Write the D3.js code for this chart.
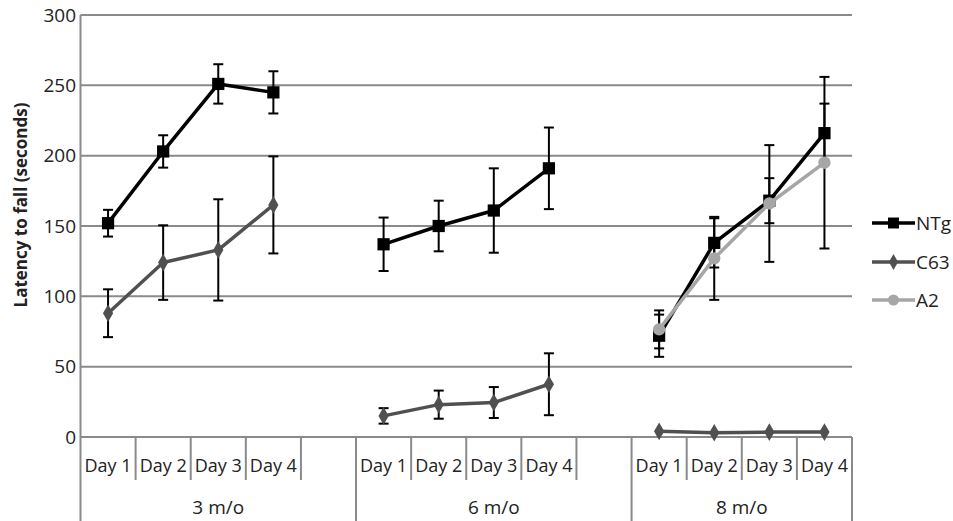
<!DOCTYPE html>
<html lang="en">
<head>
<meta charset="UTF-8">
<title>Latency to fall</title>
<script src="https://d3js.org/d3.v7.min.js"></script>
<style>
  body { margin: 0; background: #fff; }
  text { font-family: "Open Sans", sans-serif; fill: #222; }
  .tick-label { font-size: 19px; }
  .day-label { font-size: 18px; }
  .group-label { font-size: 19px; }
  .y-title { font-size: 17px; font-weight: bold; }
  .legend-label { font-size: 19px; }
</style>
</head>
<body>
<svg width="953" height="521"></svg>
<script>
// ---- data ----
const groups = ["3 m/o", "6 m/o", "8 m/o"];
const categories = [
  ["3 m/o", "Day 1"], ["3 m/o", "Day 2"], ["3 m/o", "Day 3"], ["3 m/o", "Day 4"], ["3 m/o", ""],
  ["6 m/o", "Day 1"], ["6 m/o", "Day 2"], ["6 m/o", "Day 3"], ["6 m/o", "Day 4"], ["6 m/o", ""],
  ["8 m/o", "Day 1"], ["8 m/o", "Day 2"], ["8 m/o", "Day 3"], ["8 m/o", "Day 4"]
];
const yTicks = [0, 50, 100, 150, 200, 250, 300];

const ntgMean = [152, 203, 251, 245, null, 137, 150, 161, 191, null, 72, 138, 168, 216];
const ntgErr  = [9.5, 11.5, 14, 15, null, 19, 18, 30, 29, null, 15, 17.5, 16, 21];
const c63Mean = [88, 124, 133, 165, null, 15, 23, 24.5, 37.5, null, 4, 3, 3.5, 3.5];
const c63Err  = [17, 26.5, 36, 34.5, null, 5.5, 10, 11, 22, null, 0.5, 0.5, 0.5, 0.5];
const a2Mean  = [null, null, null, null, null, null, null, null, null, null, 76.5, 127, 166, 195];
const a2Err   = [null, null, null, null, null, null, null, null, null, null, 13.5, 29.5, 41.5, 61];

const series = [
  { name: "NTg", mean: ntgMean, err: ntgErr, color: "#000000", symbol: d3.symbolSquare, size: 150 },
  { name: "C63", mean: c63Mean, err: c63Err, color: "#505050", symbol: d3.symbolDiamond, size: 90 },
  { name: "A2",  mean: a2Mean,  err: a2Err,  color: "#a6a6a6", symbol: d3.symbolCircle, size: 120 }
];

// ---- layout ----
const svg = d3.select("svg");
const plotLeft = 80.5, plotRight = 852, plotTop = 15, plotBottom = 437;

const x = d3.scaleBand()
  .domain(d3.range(categories.length))
  .range([plotLeft, plotRight])
  .padding(0);

const y = d3.scaleLinear().domain([0, 300]).range([plotBottom, plotTop]);

// gridlines
svg.append("g")
  .selectAll("line")
  .data(yTicks)
  .join("line")
  .attr("x1", plotLeft).attr("x2", plotRight)
  .attr("y1", d => y(d)).attr("y2", d => y(d))
  .attr("stroke", "#8a8a8a")
  .attr("stroke-width", 2);

// y axis line
svg.append("line")
  .attr("x1", plotLeft).attr("x2", plotLeft)
  .attr("y1", plotTop).attr("y2", 521)
  .attr("stroke", "#8a8a8a").attr("stroke-width", 2);

// y tick labels
svg.append("g")
  .selectAll("text")
  .data(yTicks)
  .join("text")
  .attr("class", "tick-label")
  .attr("x", 76)
  .attr("y", d => y(d))
  .attr("dy", "0.35em")
  .attr("text-anchor", "end")
  .text(d => d);

// category separators
const catG = svg.append("g");
categories.forEach((c, i) => {
  const xr = x(i) + x.bandwidth();
  const isGroupEnd = i === categories.length - 1 || categories[i + 1][0] !== c[0];
  catG.append("line")
    .attr("x1", xr).attr("x2", xr)
    .attr("y1", plotBottom).attr("y2", isGroupEnd ? 521 : 480)
    .attr("stroke", "#8a8a8a").attr("stroke-width", 2);
});

catG.selectAll("text.day-label")
  .data(categories)
  .join("text")
  .attr("class", "day-label")
  .attr("x", (d, i) => x(i) + x.bandwidth() / 2)
  .attr("y", 466)
  .attr("dy", "0.35em")
  .attr("text-anchor", "middle")
  .text(d => d[1]);

catG.selectAll("text.group-label")
  .data(groups)
  .join("text")
  .attr("class", "group-label")
  .attr("x", g => {
    const idx = categories.map((c, i) => c[0] === g ? i : -1).filter(i => i >= 0);
    return (x(idx[0]) + x(idx[idx.length - 1]) + x.bandwidth()) / 2;
  })
  .attr("y", 507)
  .attr("dy", "0.35em")
  .attr("text-anchor", "middle")
  .text(d => d);

// y title
svg.append("text")
  .attr("class", "y-title")
  .attr("transform", "translate(21,205) rotate(-90)")
  .attr("text-anchor", "middle")
  .attr("dy", "0.35em")
  .text("Latency to fall (seconds)");

// series
const line = d3.line()
  .defined(d => d.v != null)
  .x(d => x(d.i) + x.bandwidth() / 2)
  .y(d => y(d.v));

series.forEach(s => {
  const pts = s.mean.map((v, i) => ({ i, v, e: s.err[i] }));
  const valid = pts.filter(p => p.v != null);
  const g = svg.append("g");

  // error bars
  const eb = g.selectAll("g.eb").data(valid.filter(p => p.e > 1)).join("g");
  eb.append("line")
    .attr("x1", p => x(p.i) + x.bandwidth() / 2).attr("x2", p => x(p.i) + x.bandwidth() / 2)
    .attr("y1", p => y(p.v + p.e)).attr("y2", p => y(p.v - p.e))
    .attr("stroke", "#000").attr("stroke-width", 2);
  [1, -1].forEach(sign => {
    eb.append("line")
      .attr("x1", p => x(p.i) + x.bandwidth() / 2 - 5).attr("x2", p => x(p.i) + x.bandwidth() / 2 + 5)
      .attr("y1", p => y(p.v + sign * p.e)).attr("y2", p => y(p.v + sign * p.e))
      .attr("stroke", "#000").attr("stroke-width", 2);
  });

  g.append("path")
    .datum(pts)
    .attr("d", line)
    .attr("fill", "none")
    .attr("stroke", s.color)
    .attr("stroke-width", 3.5)
    .attr("stroke-linejoin", "round");

  g.selectAll("path.marker")
    .data(valid)
    .join("path")
    .attr("class", "marker")
    .attr("d", d3.symbol().type(s.symbol).size(s.size))
    .attr("transform", p => `translate(${x(p.i) + x.bandwidth() / 2},${y(p.v)})`)
    .attr("fill", s.color);
});

// legend
const legend = svg.append("g").attr("transform", "translate(872,0)");
const legendY = [223, 262, 300];
series.forEach((s, k) => {
  const row = legend.append("g").attr("transform", `translate(0,${legendY[k]})`);
  row.append("line")
    .attr("x1", 0).attr("x2", 43)
    .attr("stroke", s.color).attr("stroke-width", 3.5);
  row.append("path")
    .attr("d", d3.symbol().type(s.symbol).size(s.size * 0.8))
    .attr("transform", "translate(21.5,0)")
    .attr("fill", s.color);
  row.append("text")
    .attr("class", "legend-label")
    .attr("x", 44)
    .attr("dy", "0.35em")
    .text(s.name);
});
</script>
</body>
</html>
